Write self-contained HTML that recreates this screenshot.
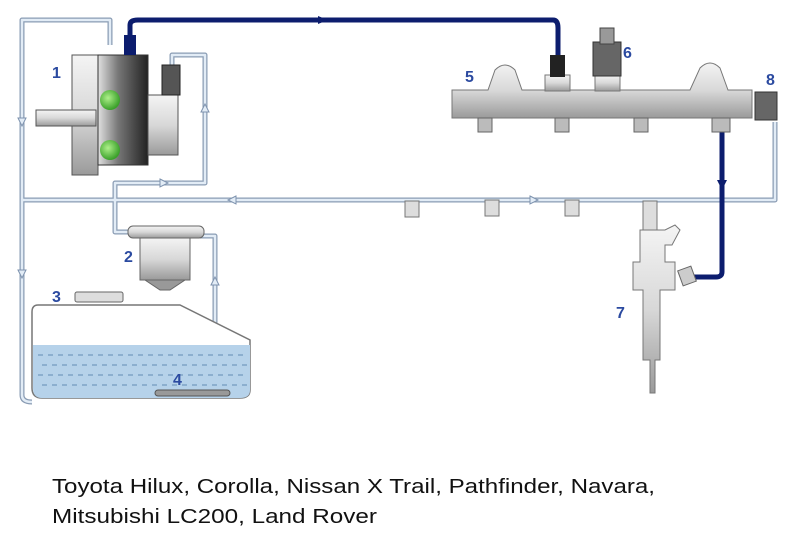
<!DOCTYPE html>
<html><head><meta charset="utf-8"><style>
html,body{margin:0;padding:0;background:#fff;width:800px;height:543px;overflow:hidden}
svg{display:block}
.lbl{font-family:"Liberation Sans",sans-serif;font-size:16px;fill:#2b4aa0;font-weight:600}
.cap{font-family:"Liberation Sans",sans-serif;font-size:20px;fill:#111}
</style></head><body>
<svg width="800" height="543" viewBox="0 0 800 543" xmlns="http://www.w3.org/2000/svg">
<defs>
<linearGradient id="met" x1="0" y1="0" x2="0" y2="1"><stop offset="0" stop-color="#f4f4f4"/><stop offset="0.5" stop-color="#d8d8d8"/><stop offset="1" stop-color="#9a9a9a"/></linearGradient>
<linearGradient id="dark" x1="0" y1="0" x2="1" y2="0"><stop offset="0" stop-color="#e0e0e0"/><stop offset="0.4" stop-color="#777"/><stop offset="1" stop-color="#222"/></linearGradient>
<radialGradient id="grn" cx="0.4" cy="0.4" r="0.6"><stop offset="0" stop-color="#aef08a"/><stop offset="1" stop-color="#3aa02a"/></radialGradient>
</defs>
<g fill="none" stroke="#8a9cb4" stroke-width="5" stroke-linejoin="round">
<path d="M110 45 V20 H22 V395 Q22 402 32 402"/>
<path d="M22 200 H775 V122"/>
<path d="M215 395 V236 H200"/>
<path d="M130 232 H115 V183 H205 V55 H172 V70"/>
</g>
<g fill="none" stroke="#e2ecf6" stroke-width="2.5" stroke-linejoin="round">
<path d="M110 45 V20 H22 V395 Q22 402 32 402"/>
<path d="M22 200 H775 V122"/>
<path d="M215 395 V236 H200"/>
<path d="M130 232 H115 V183 H205 V55 H172 V70"/>
</g>
<g fill="none" stroke="#0c1d6e" stroke-width="5" stroke-linejoin="round">
<path d="M130 50 V25 Q130 20 138 20 H553 Q558 20 558 28 V62"/>
<path d="M722 130 V272 Q722 277 716 277 H690"/>
</g>
<!-- arrows -->
<g fill="#e2ecf6" stroke="#7d92ae" stroke-width="1">
<path d="M236 196 L228 200 L236 204Z"/>
<path d="M530 196 L538 200 L530 204Z"/>
<path d="M160 179 L168 183 L160 187Z"/>
<path d="M201 112 L205 104 L209 112Z"/>
<path d="M211 285 L215 277 L219 285Z"/>
<path d="M18 118 L22 126 L26 118Z"/>
<path d="M18 270 L22 278 L26 270Z"/>
</g>
<path d="M318 16 L328 20 L318 24Z" fill="#0c1d6e"/>
<path d="M717 180 L722 190 L727 180Z" fill="#0c1d6e"/>
<path d="M38 305 H180 L250 340 V390 Q250 398 240 398 H42 Q32 398 32 388 V312 Q32 305 38 305Z" fill="#fff" stroke="#777" stroke-width="1.5"/>
<path d="M33 345 H250 V390 Q250 398 240 398 H42 Q33 398 33 388Z" fill="#b6d2ea"/>
<g stroke="#7fa3c6" stroke-width="1.5" stroke-dasharray="5 5">
<line x1="38" y1="355" x2="248" y2="355"/><line x1="42" y1="365" x2="248" y2="365"/><line x1="38" y1="375" x2="248" y2="375"/><line x1="42" y1="385" x2="248" y2="385"/></g>
<rect x="75" y="292" width="48" height="10" rx="2" fill="#ddd" stroke="#666"/>
<rect x="155" y="390" width="75" height="6" rx="3" fill="#999" stroke="#555"/>
<rect x="128" y="226" width="76" height="12" rx="5" fill="url(#met)" stroke="#666"/>
<rect x="140" y="238" width="50" height="42" fill="url(#met)" stroke="#666"/>
<path d="M145 280 H185 L170 290 H160Z" fill="#999" stroke="#666"/>
<rect x="72" y="55" width="26" height="120" fill="url(#met)" stroke="#555"/>
<rect x="98" y="55" width="50" height="110" fill="url(#dark)" stroke="#333"/>
<rect x="36" y="110" width="60" height="16" fill="url(#met)" stroke="#555"/>
<rect x="148" y="95" width="30" height="60" fill="url(#met)" stroke="#555"/>
<rect x="162" y="65" width="18" height="30" fill="#555" stroke="#222"/>
<circle cx="110" cy="100" r="10" fill="url(#grn)"/>
<circle cx="110" cy="150" r="10" fill="url(#grn)"/>
<rect x="124" y="35" width="12" height="20" fill="#0c1d6e"/>
<path d="M452 90 H488 L495 70 Q505 60 515 70 L522 90 H690 L700 68 Q710 58 720 68 L728 90 H752 V118 H452Z" fill="url(#met)" stroke="#777"/>
<rect x="545" y="75" width="25" height="16" fill="url(#met)" stroke="#777"/>
<rect x="550" y="55" width="15" height="22" fill="#222"/>
<rect x="595" y="75" width="25" height="16" fill="url(#met)" stroke="#777"/>
<rect x="593" y="42" width="28" height="34" fill="#666" stroke="#333"/>
<rect x="600" y="28" width="14" height="16" fill="#999" stroke="#444"/>
<rect x="755" y="92" width="22" height="28" fill="#666" stroke="#333"/>
<g fill="#bbb" stroke="#666"><rect x="478" y="118" width="14" height="14"/><rect x="555" y="118" width="14" height="14"/><rect x="634" y="118" width="14" height="14"/><rect x="712" y="118" width="18" height="14"/></g>
<g fill="#ddd" stroke="#777"><rect x="405" y="201" width="14" height="16"/><rect x="485" y="200" width="14" height="16"/><rect x="565" y="200" width="14" height="16"/><rect x="643" y="201" width="14" height="30"/></g>
<path d="M640 230 H665 L675 225 L680 230 L672 245 H665 V262 H675 V290 H660 V360 H655 V393 H650 V360 H643 V290 H633 V262 H640Z" fill="url(#met)" stroke="#777"/>
<rect x="680" y="268" width="14" height="16" fill="#ccc" stroke="#666" transform="rotate(-20 687 276)"/>
<text class="lbl" x="52" y="78">1</text>
<text class="lbl" x="124" y="262">2</text>
<text class="lbl" x="52" y="302">3</text>
<text class="lbl" x="173" y="385">4</text>
<text class="lbl" x="465" y="82">5</text>
<text class="lbl" x="623" y="58">6</text>
<text class="lbl" x="616" y="318">7</text>
<text class="lbl" x="766" y="85">8</text>
<text class="cap" x="52" y="493" textLength="603" lengthAdjust="spacingAndGlyphs">Toyota Hilux, Corolla, Nissan X Trail, Pathfinder, Navara,</text>
<text class="cap" x="52" y="523" textLength="325" lengthAdjust="spacingAndGlyphs">Mitsubishi LC200, Land Rover</text>
</svg>
</body></html>
